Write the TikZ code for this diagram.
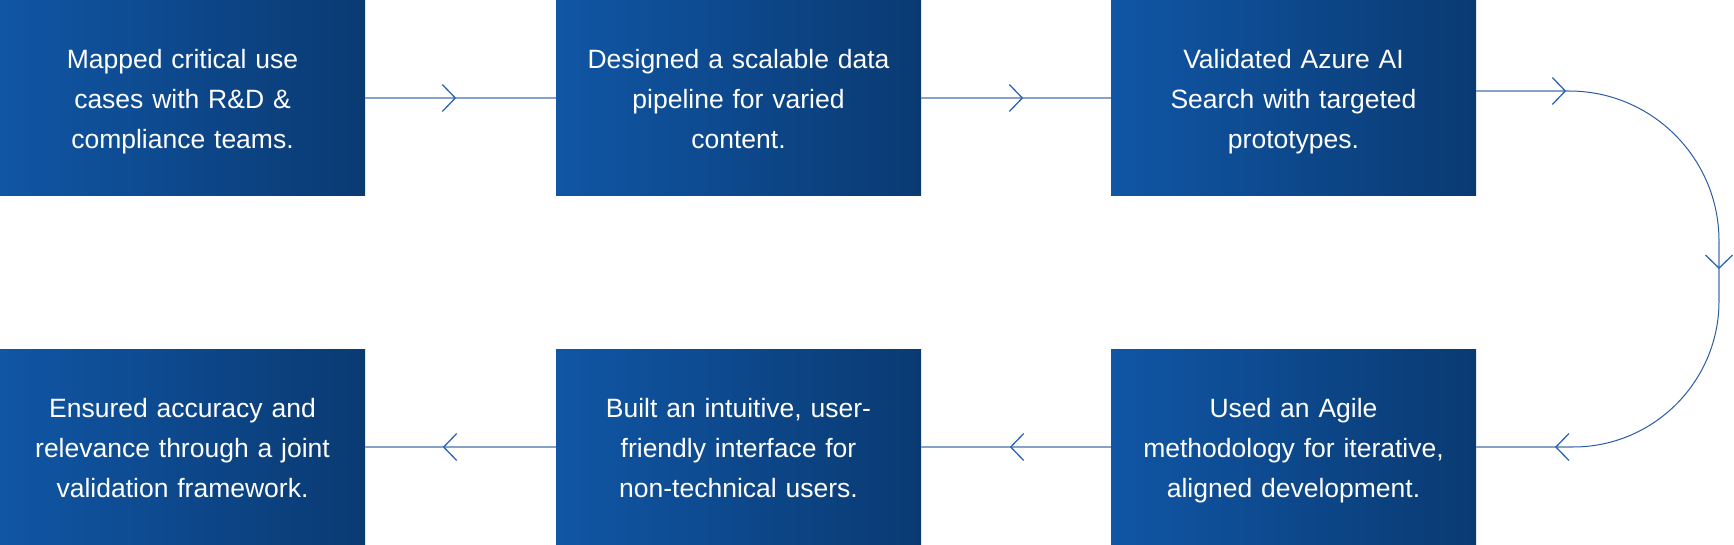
\documentclass[tikz,border=0pt]{standalone}
\usepackage{fontspec}
\setmainfont{Liberation Sans}
\usepackage{tikz}
\usepackage{xcolor}
\usetikzlibrary{arrows.meta, positioning, decorations.markings}
\definecolor{boxleft}{HTML}{1056A5}
\definecolor{boxright}{HTML}{0A3A72}
\definecolor{flowgrey}{HTML}{86A2C8}
\definecolor{tipblue}{HTML}{2C64B4}
\definecolor{arcblue}{HTML}{2A5BA3}

\begin{document}
\begin{tikzpicture}[
  x=1pt, y=-1pt,
  font=\fontsize{26.5}{40}\selectfont,
  stepbox/.style={rectangle, minimum width=365pt, minimum height=196pt, inner sep=0pt, text width=345pt, align=center, text=white, left color=boxleft, right color=boxright, text height=20pt, text depth=79.8pt},
  flow/.style={draw=flowgrey, line width=1.8pt},
  turnarc/.style={draw=arcblue, line width=1pt},
  tipat/.style={postaction={decorate}, decoration={markings, mark=at position #1 with {\arrow{Straight Barb[length=13pt, width=27pt, line width=1.3pt, color=tipblue]}}}}
]
\useasboundingbox (0,0) rectangle (1734,545);
\node[stepbox] (map) at (182.5,98) {Mapped critical use\\cases with R\&D \&\\compliance teams.};
\node[stepbox] (pipe) at (738.5,98) {Designed a scalable data\\pipeline for varied\\content.};
\node[stepbox] (azure) at (1293.5,98) {Validated Azure AI\\Search with targeted\\prototypes.};
\node[stepbox] (agile) at (1293.5,447) {Used an Agile\\methodology for iterative,\\aligned development.};
\node[stepbox] (ui) at (738.5,447) {Built an intuitive, user-\\friendly interface for\\non-technical users.};
\node[stepbox] (valid) at (182.5,447) {Ensured accuracy and\\relevance through a joint\\validation framework.};

\draw[flow, tipat=91pt] (map) -- (pipe);
\draw[flow, tipat=102pt] (pipe) -- (azure);
\draw[flow, tipat=101pt] (agile) -- (ui);
\draw[flow, tipat=113pt] (ui) -- (valid);

\coordinate (turn1) at (1569,91);
\draw[flow, tipat=90pt] ([yshift=7pt]azure.east) -- (turn1);
\draw[turnarc] (turn1) arc[start angle=90, end angle=0, radius=150pt] coordinate (turn2);
\draw[flow, tipat=28pt] (turn2) -- ++(0,60) coordinate (turn3);
\draw[turnarc] (turn3) arc[start angle=0, end angle=-90, radius=146pt] coordinate (turn4);
\draw[flow, tipat=18pt] (turn4) -- (agile);
\end{tikzpicture}
\end{document}
